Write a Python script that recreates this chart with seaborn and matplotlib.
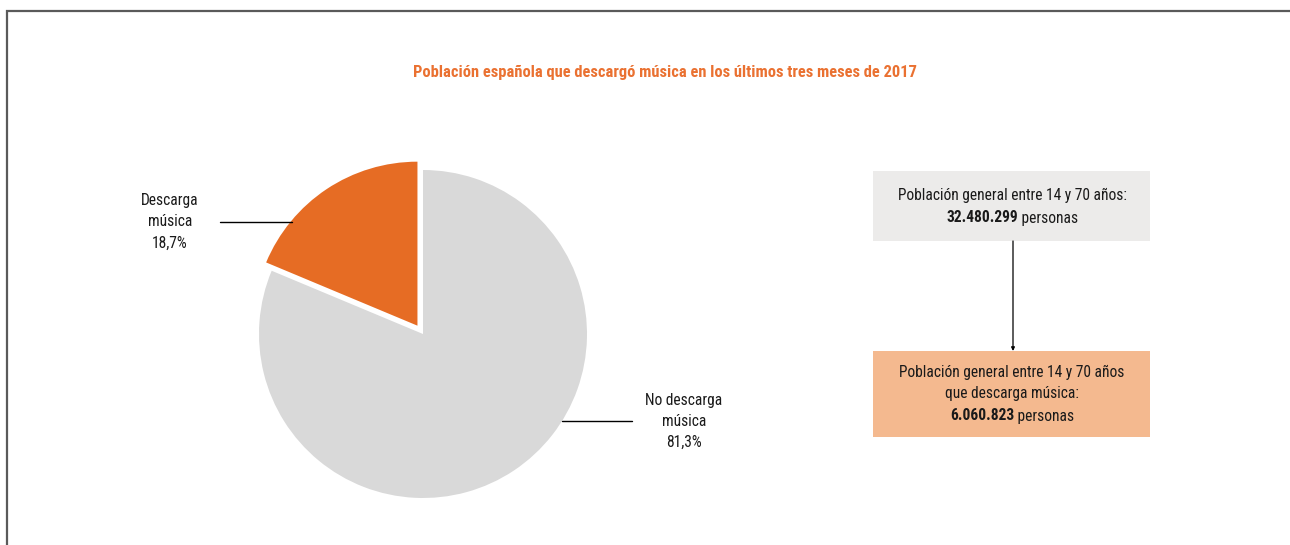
import matplotlib
matplotlib.use("Agg")
import matplotlib.pyplot as plt
import matplotlib.font_manager as fm
from matplotlib.patches import Rectangle
import seaborn as sns

# Shares of the population aged 14-70 (percent)
categories = ["Descarga\nmúsica", "No descarga\nmúsica"]
shares = [18.7, 81.3]
share_labels = ["18,7%", "81,3%"]

# Population counts shown in the boxes
total_population = "32.480.299"
downloaders = "6.060.823"

title = "Población española que descargó música en los últimos tres meses de 2017"

sns.set_theme(style="white")
available = {f.name for f in fm.fontManager.ttflist}
family = "DejaVu Sans"
for cand in ["Liberation Sans Narrow", "Roboto Condensed", "Open Sans Condensed",
             "Noto Sans Condensed", "Roboto", "Lato"]:
    if cand in available:
        family = cand
        break
plt.rcParams["font.family"] = [family, "DejaVu Sans"]

orange = "#e66c24"
grey = "#d9d9d9"
title_orange = "#ea7131"
box_grey = "#ecebea"
box_orange = "#f4b98f"
text_col = "#1a1a1a"

W, H = 1290, 545
fig = plt.figure(figsize=(W / 100, H / 100), dpi=100)
ax = fig.add_axes([0, 0, 1, 1])
ax.axis("off")

def Y(y):
    return H - y

# pie
cx, cy, R = 423, 334, 164
ax.pie(shares, colors=[orange, grey], startangle=90, counterclock=True,
       radius=R, center=(cx, Y(cy)), explode=[10, 0],
       wedgeprops=dict(linewidth=0))
ax.set_xlim(0, W)
ax.set_ylim(0, H)
ax.set_aspect("equal")

fig.canvas.draw()
renderer = fig.canvas.get_renderer()

def fit_size(text, target_px, weight="normal"):
    t = ax.text(0, 0, text, fontsize=10, fontweight=weight)
    w = t.get_window_extent(renderer).width
    t.remove()
    return 10 * target_px / w

body_size = fit_size("Población general entre 14 y 70 años:", 229)
title_size = fit_size(title, 506, "bold")

# outer frame (top and left edges)
ax.plot([7, 7, W], [Y(H), Y(11), Y(11)], color="#5a5a5a", lw=1.6,
        solid_joinstyle="miter")

ax.text(665, Y(73), title, color=title_orange, fontsize=title_size,
        fontweight="bold", ha="center", va="center")

# labels and leader lines
ax.plot([220, 292], [Y(222), Y(222)], color="black", lw=1)
ax.text(170, Y(222), categories[0] + "\n" + share_labels[0], ha="center",
        va="center", fontsize=body_size, color=text_col, linespacing=1.5)
ax.plot([562, 632], [Y(421), Y(421)], color="black", lw=1)
ax.text(684, Y(421), categories[1] + "\n" + share_labels[1], ha="center",
        va="center", fontsize=body_size, color=text_col, linespacing=1.5)

# boxes and connecting arrow
ax.add_patch(Rectangle((873, Y(241)), 277, 70, facecolor=box_grey, edgecolor="none"))
ax.add_patch(Rectangle((873, Y(437)), 277, 86, facecolor=box_orange, edgecolor="none"))
ax.annotate("", xy=(1013, Y(351)), xytext=(1013, Y(241)),
            arrowprops=dict(arrowstyle="-|>", color="black", lw=0.9,
                            mutation_scale=5, shrinkA=0, shrinkB=0))

def mixed_line(xc, y, bold, regular, size):
    tb = ax.text(0, 0, bold, fontsize=size, fontweight="bold", color=text_col,
                 ha="left", va="center")
    tr = ax.text(0, 0, " " + regular, fontsize=size, color=text_col,
                 ha="left", va="center")
    wb = tb.get_window_extent(renderer).width
    wr = tr.get_window_extent(renderer).width
    x0 = xc - (wb + wr) / 2
    tb.set_position((x0, Y(y)))
    tr.set_position((x0 + wb, Y(y)))

ax.text(1012, Y(195), "Población general entre 14 y 70 años:", ha="center",
        va="center", fontsize=body_size, color=text_col)
mixed_line(1012, 218, total_population, "personas", body_size)

ax.text(1012, Y(383), "Población general entre 14 y 70 años\nque descarga música:",
        ha="center", va="center", fontsize=body_size, color=text_col, linespacing=1.5)
mixed_line(1012, 416, downloaders, "personas", body_size)

fig.savefig("out.png", dpi=100)
